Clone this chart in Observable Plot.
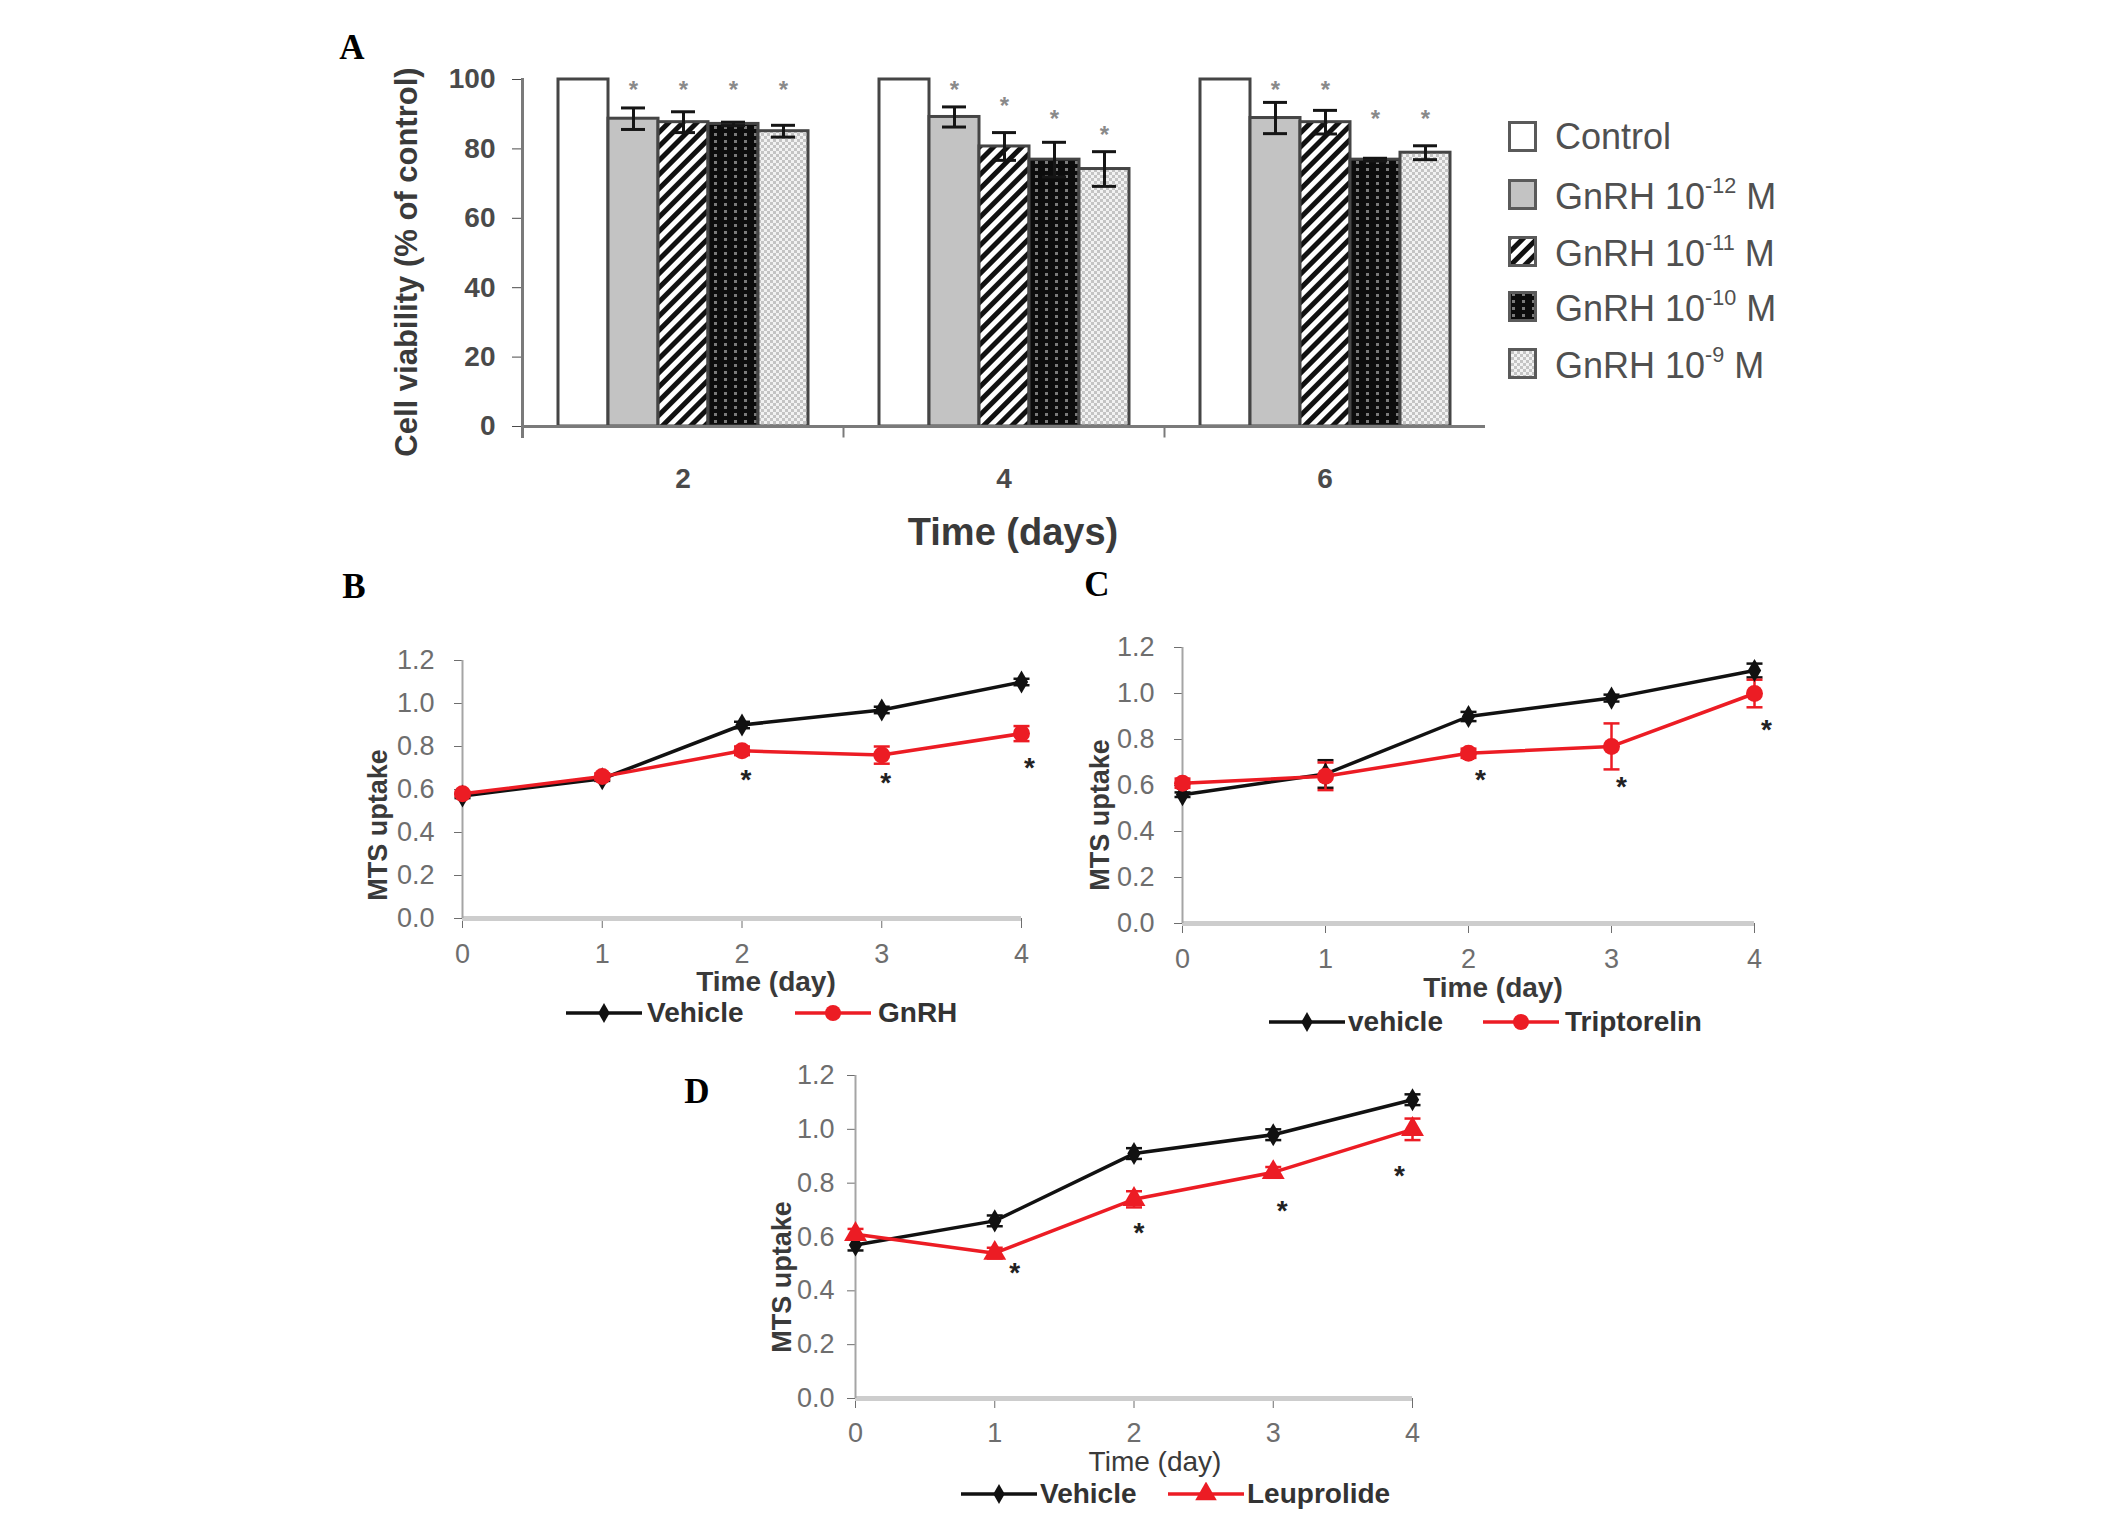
<!DOCTYPE html>
<html lang="en">
<head>
<meta charset="UTF-8">
<title>GnRH analogues: cell viability and MTS uptake</title>
<script src="https://cdn.jsdelivr.net/npm/d3@7"></script>
<script src="https://cdn.jsdelivr.net/npm/@observablehq/plot@0.6"></script>
<style>
  body {
    margin: 0;
    width: 2126px;
    height: 1518px;
    position: relative;
    overflow: hidden;
    background: #fff;
    font-family: "Liberation Sans", Arial, sans-serif;
  }
  .abs { position: absolute; white-space: nowrap; }
  .c { transform: translate(-50%, -50%); }
  .rot { transform: translate(-50%, -50%) rotate(-90deg); }
  .panel { font-family: "Liberation Serif", "Times New Roman", serif; font-weight: bold; font-size: 35px; color: #000; }
  .lab { font-weight: bold; color: #3a3a3a; }
  .leg { font-weight: bold; color: #333; font-size: 28px; line-height: 1; }
  .legA { font-size: 36px; color: #505050; line-height: 1; }
  .legA sup { font-size: 0.6em; vertical-align: 0.75em; }
</style>
</head>
<body>
<svg width="0" height="0" style="position:absolute">
  <defs>
    <pattern id="hatch" patternUnits="userSpaceOnUse" width="10" height="10" patternTransform="rotate(45)">
      <rect width="10" height="10" fill="#fff"></rect>
      <rect width="5" height="10" fill="#111"></rect>
    </pattern>
    <pattern id="darkdots" patternUnits="userSpaceOnUse" width="10" height="7">
      <rect width="10" height="7" fill="#0c0c0c"></rect>
      <rect x="4" y="2" width="3" height="3" fill="#7a7a7a"></rect>
    </pattern>
    <pattern id="lightcheck" patternUnits="userSpaceOnUse" width="6" height="6">
      <rect width="6" height="6" fill="#f2f2f2"></rect>
      <rect width="3" height="3" fill="#c4c4c4"></rect>
      <rect x="3" y="3" width="3" height="3" fill="#c4c4c4"></rect>
    </pattern>
  </defs>
</svg>
<script>
// ---------- panel A: cell viability (% of control) ----------
const daysA = ["2", "4", "6"];
const seriesA = ["Control", "GnRH 10-12 M", "GnRH 10-11 M", "GnRH 10-10 M", "GnRH 10-9 M"];
const exponentsA = [null, "-12", "-11", "-10", "-9"];
const fillsA = ["#ffffff", "#c3c3c3", "url(#hatch)", "url(#darkdots)", "url(#lightcheck)"];

const control = [100, 100, 100];
const gnrh12 = [88.7, 89.2, 88.9];
const gnrh11 = [87.7, 80.7, 87.7];
const gnrh10 = [87.2, 76.9, 76.9];
const gnrh9 = [85.1, 74.2, 78.9];

const err12 = [3.1, 2.9, 4.5];
const err11 = [3.0, 4.0, 3.4];
const err10 = [0.5, 5.0, 0.4];
const err9 = [1.7, 5.0, 2.0];

// height of the "*" marks above each bar
const star12 = [98.3, 98.3, 98.3];
const star11 = [98.3, 93.7, 98.3];
const star10 = [98.3, 89.9, 89.9];
const star9 = [98.3, 85.5, 89.9];

// ---------- panels B, C, D: MTS uptake ----------
const daysLine = [0, 1, 2, 3, 4];
const yTicksLine = [0, 0.2, 0.4, 0.6, 0.8, 1.0, 1.2];

const vehicleB = [0.57, 0.65, 0.90, 0.97, 1.10];
const vehicleErrB = [0.01, 0.01, 0.015, 0.015, 0.015];
const gnrhB = [0.58, 0.66, 0.78, 0.76, 0.86];
const gnrhErrB = [0.01, 0.015, 0.02, 0.04, 0.035];
const starDaysB = [2, 3, 4];
const starYB = [0.68, 0.665, 0.735];

const vehicleC = [0.56, 0.65, 0.90, 0.98, 1.10];
const vehicleErrC = [0.01, 0.06, 0.02, 0.015, 0.03];
const triptorelinC = [0.61, 0.64, 0.74, 0.77, 1.00];
const triptorelinErrC = [0.02, 0.06, 0.02, 0.10, 0.06];
const starDaysC = [2, 3, 4];
const starYC = [0.66, 0.63, 0.875];

const vehicleD = [0.57, 0.66, 0.91, 0.98, 1.11];
const vehicleErrD = [0.02, 0.02, 0.02, 0.02, 0.02];
const leuprolideD = [0.61, 0.54, 0.74, 0.84, 1.00];
const leuprolideErrD = [0.02, 0.02, 0.03, 0.02, 0.04];
const starDaysD = [1, 2, 3, 4];
const starYD = [0.495, 0.643, 0.727, 0.857];

const red = "#ec1c24";

// ---------- helpers ----------
function place(html, x, y, cls) {
  const el = document.createElement("div");
  el.className = "abs " + (cls || "");
  el.style.left = x + "px";
  el.style.top = y + "px";
  el.innerHTML = html;
  document.body.appendChild(el);
  return el;
}
function mount(svg, left, top) {
  const d = document.createElement("div");
  d.className = "abs";
  d.style.left = left + "px";
  d.style.top = top + "px";
  d.appendChild(svg);
  document.body.appendChild(d);
}

// short horizontal bar used as error bar cap
const capSymbol = {
  draw(context, size) {
    const r = Math.sqrt(size / Math.PI);
    context.moveTo(-r, 0);
    context.lineTo(r, 0);
  }
};

// ---------- panel A chart ----------
const valuesA = [control, gnrh12, gnrh11, gnrh10, gnrh9];
const errsA = [null, err12, err11, err10, err9];
const starsA = [null, star12, star11, star10, star9];
const rowsA = daysA.flatMap((day, i) => seriesA.map((s, j) => ({
  day, series: s, value: valuesA[j][i],
  err: errsA[j] ? errsA[j][i] : null,
  star: starsA[j] ? starsA[j][i] : null
})));
const errRowsA = rowsA.filter(d => d.err != null);
const starRowsA = rowsA.filter(d => d.star != null);

const wA = 1120, hA = 480, mtA = 39, mbA = 94;
const innerHA = hA - mtA - mbA;
const chartA = Plot.plot({
  width: wA, height: hA,
  marginLeft: 142, marginRight: 15, marginTop: mtA, marginBottom: mbA,
  style: {fontFamily: "Liberation Sans, Arial, sans-serif", fontSize: "28px", fontWeight: "bold", color: "#4a4a4a", background: "transparent", overflow: "visible"},
  fx: {domain: daysA, padding: 0, axis: "bottom", tickSize: 0, tickPadding: 42, label: null},
  x: {domain: seriesA, paddingInner: 0, paddingOuter: 0.66, axis: null},
  y: {domain: [0, 100], ticks: [0, 20, 40, 60, 80, 100], tickSize: 10, tickPadding: 17, label: null},
  color: {type: "ordinal", domain: seriesA, range: fillsA},
  marks: [
    Plot.barY(rowsA, {fx: "day", x: "series", y: "value", fill: "series", stroke: "#454545", strokeWidth: 3}),
    Plot.ruleX(errRowsA, {fx: "day", x: "series", y1: d => d.value - d.err, y2: d => d.value + d.err, stroke: "#151515", strokeWidth: 3}),
    Plot.tickY(errRowsA, {fx: "day", x: "series", y: d => d.value - d.err, insetLeft: 13, insetRight: 13, stroke: "#151515", strokeWidth: 3}),
    Plot.tickY(errRowsA, {fx: "day", x: "series", y: d => d.value + d.err, insetLeft: 13, insetRight: 13, stroke: "#151515", strokeWidth: 3}),
    Plot.text(starRowsA, {fx: "day", x: "series", y: "star", text: () => "*", fill: "#8a8a8a", fontSize: 24, dy: 5}),
    Plot.ruleY([0], {stroke: "#7a7a7a", strokeWidth: 3}),
    Plot.frame({anchor: "left", facetAnchor: "left", stroke: "#7a7a7a", strokeWidth: 3, insetBottom: -10}),
    Plot.frame({anchor: "left", stroke: "#7a7a7a", strokeWidth: 2, insetTop: innerHA, insetBottom: -10})
  ]
});
mount(chartA, 380, 40);

// ---------- line charts ----------
function mtsChart(o) {
  const veh = daysLine.map((d, i) => ({day: d, v: o.vehicle[i], e: o.vehicleErr[i]}));
  const trt = daysLine.map((d, i) => ({day: d, v: o.treat[i], e: o.treatErr[i]}));
  const stars = o.starDays.map((d, i) => ({day: d, v: o.starY[i]}));
  const errMarks = (rows, color) => [
    Plot.ruleX(rows, {x: "day", y1: d => d.v - d.e, y2: d => d.v + d.e, stroke: color, strokeWidth: 2.5}),
    Plot.dot(rows, {x: "day", y: d => d.v - d.e, symbol: capSymbol, r: 8, stroke: color, strokeWidth: 2.5, fill: "none"}),
    Plot.dot(rows, {x: "day", y: d => d.v + d.e, symbol: capSymbol, r: 8, stroke: color, strokeWidth: 2.5, fill: "none"})
  ];
  return Plot.plot({
    width: o.width, height: o.height,
    marginLeft: 62, marginRight: o.mr, marginTop: o.mt, marginBottom: o.mb,
    style: {fontFamily: "Liberation Sans, Arial, sans-serif", fontSize: "27px", color: "#6e6e6e", background: "transparent", overflow: "visible"},
    x: {domain: [0, 4], ticks: daysLine, tickFormat: d => String(d), tickSize: 10, tickPadding: o.xPad, label: null},
    y: {domain: [0, 1.2], ticks: yTicksLine, tickFormat: d3.format(".1f"), tickSize: 8, tickPadding: o.yPad, label: null},
    marks: [
      Plot.ruleY([0], {stroke: "#cdcdcd", strokeWidth: 5}),
      Plot.ruleX([0], {stroke: "#a5a5a5", strokeWidth: 2}),
      Plot.line(veh, {x: "day", y: "v", stroke: "#111", strokeWidth: 3.5}),
      Plot.line(trt, {x: "day", y: "v", stroke: red, strokeWidth: 3.5}),
      ...errMarks(veh, "#111"),
      ...errMarks(trt, red),
      Plot.dot(veh, {x: "day", y: "v", symbol: "diamond", r: 7, fill: "#111"}),
      Plot.dot(trt, {x: "day", y: "v", symbol: o.treatSymbol, r: 8.5, fill: red}),
      ...stars.map((s, i) => Plot.text([s], {x: "day", y: "v", text: () => "*", fill: "#222", fontSize: 28, fontWeight: "bold", dx: o.starDx[i], dy: 8}))
    ]
  });
}

mount(mtsChart({
  vehicle: vehicleB, vehicleErr: vehicleErrB, treat: gnrhB, treatErr: gnrhErrB, treatSymbol: "circle",
  starDays: starDaysB, starY: starYB, starDx: [4, 4, 8],
  width: 640, height: 360, mr: 19, mt: 40, mb: 62, xPad: 15, yPad: 20
}), 400, 620);

mount(mtsChart({
  vehicle: vehicleC, vehicleErr: vehicleErrC, treat: triptorelinC, treatErr: triptorelinErrC, treatSymbol: "circle",
  starDays: starDaysC, starY: starYC, starDx: [12, 10, 12],
  width: 660, height: 370, mr: 26, mt: 37, mb: 57, xPad: 15, yPad: 20
}), 1120, 610);

mount(mtsChart({
  vehicle: vehicleD, vehicleErr: vehicleErrD, treat: leuprolideD, treatErr: leuprolideErrD, treatSymbol: "triangle",
  starDays: starDaysD, starY: starYD, starDx: [20, 5, 9, -13],
  width: 640, height: 400, mr: 21, mt: 35, mb: 42, xPad: 14, yPad: 13
}), 793, 1040);

// ---------- text: panel letters, axis titles ----------
place("A", 352, 48, "c panel");
place("B", 354, 587, "c panel");
place("C", 1097, 585, "c panel");
place("D", 697, 1092, "c panel");

place("Cell viability (% of control)", 407, 262, "rot lab").style.fontSize = "31px";
place("Time (days)", 1013, 532, "c lab").style.fontSize = "38px";

[[378, 825], [1100, 815], [782, 1277]].forEach(([x, y]) => {
  place("MTS uptake", x, y, "rot lab").style.fontSize = "27px";
});
place("Time (day)", 766, 982, "c lab").style.fontSize = "28px";
place("Time (day)", 1493, 988, "c lab").style.fontSize = "28px";
const tD = place("Time (day)", 1155, 1462, "c lab");
tD.style.fontSize = "28px";
tD.style.fontWeight = "normal";

// ---------- legend of panel A ----------
const legYA = [137, 195, 252, 307, 364];
seriesA.forEach((s, j) => {
  const label = exponentsA[j] ? `GnRH 10<sup>${exponentsA[j]}</sup> M` : s;
  place(`<svg width="30" height="32" style="vertical-align:middle"><rect x="1.5" y="1.5" width="26" height="28" fill="${fillsA[j]}" stroke="#5a5a5a" stroke-width="3"></rect></svg>`,
    1508, legYA[j] - 16, "");
  place(label, 1555, legYA[j], "legA").style.transform = "translateY(-50%)";
});

// ---------- legends of line charts ----------
function swatch(color, symbolType, r) {
  const path = d3.symbol(symbolType, r * r * Math.PI)();
  return `<svg width="76" height="24"><line x1="0" y1="12" x2="76" y2="12" stroke="${color}" stroke-width="3.5"></line>` +
    `<path d="${path}" transform="translate(38,12)" fill="${color}"></path></svg>`;
}
function lineLegend(y, items) {
  items.forEach(([x0, tx, color, sym, r, text]) => {
    place(swatch(color, sym, r), x0, y - 12, "");
    place(text, tx, y, "leg").style.transform = "translateY(-50%)";
  });
}
lineLegend(1013, [[566, 647, "#111", d3.symbolDiamond, 6, "Vehicle"], [795, 878, red, d3.symbolCircle, 8, "GnRH"]]);
lineLegend(1022, [[1269, 1348, "#111", d3.symbolDiamond, 6, "vehicle"], [1483, 1565, red, d3.symbolCircle, 8, "Triptorelin"]]);
lineLegend(1494, [[961, 1040, "#111", d3.symbolDiamond, 6, "Vehicle"], [1168, 1247, red, d3.symbolTriangle, 8, "Leuprolide"]]);
</script>
</body>
</html>
